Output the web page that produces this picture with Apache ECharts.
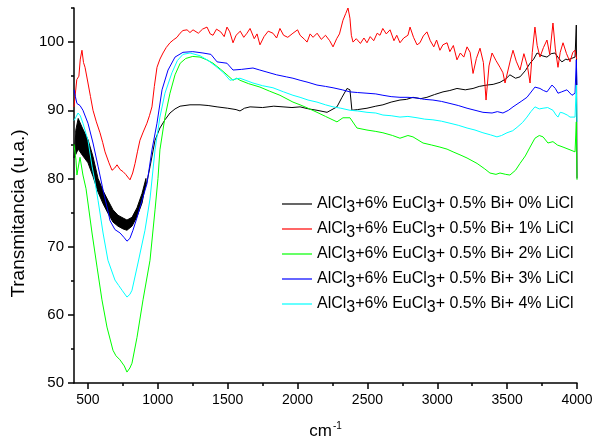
<!DOCTYPE html>
<html>
<head>
<meta charset="utf-8">
<script src="https://cdn.jsdelivr.net/npm/echarts@6/dist/echarts.min.js"></script>
<style>html,body{margin:0;padding:0;background:#fff}#c{width:597px;height:447px}</style>
</head>
<body>
<div id="c"></div>
<script>
// ---- data ----
const seriesNames = [
  'AlCl3+6% EuCl3+ 0.5% Bi+ 0% LiCl',
  'AlCl3+6% EuCl3+ 0.5% Bi+ 1% LiCl',
  'AlCl3+6% EuCl3+ 0.5% Bi+ 2% LiCl',
  'AlCl3+6% EuCl3+ 0.5% Bi+ 3% LiCl',
  'AlCl3+6% EuCl3+ 0.5% Bi+ 4% LiCl'
];
const xMajorTicks = [500, 1000, 1500, 2000, 2500, 3000, 3500, 4000];
const xMinorTicks = [750, 1250, 1750, 2250, 2750, 3250, 3750];
const yMajorTicks = [50, 60, 70, 80, 90, 100];
const yMinorTicks = [55, 65, 75, 85, 95, 105];

const blackX = [400,410,430,460,500,536,572,608,643,679,715,751,779,815,851,887,922,944,980,1015,1051,1087,1123,1159,1230,1302,1360,1424,1500,1560,1588,1620,1660,1750,1830,1896,1960,2018,2080,2139,2211,2282,2318,2354,2375,2389,2430,2497,2560,2611,2670,2733,2780,2826,2880,2926,2980,3041,3090,3141,3200,3256,3300,3356,3400,3449,3490,3520,3560,3592,3630,3664,3690,3714,3750,3785,3815,3842,3870,3892,3920,3935,3960,3986,3995,4000];
const blackY = [83,86,87.5,86,84.3,82,79,77,75.7,74.4,73.8,73.4,73.1,73.6,75,77.1,79.5,81.7,85.6,87.4,88.6,89.6,90.2,90.6,90.8,90.8,90.7,90.5,90.3,90.1,89.9,90.3,90.5,90.4,90.6,90.5,90.4,90.5,90.2,90.0,89.7,90.5,91.9,93.2,93.0,90.0,90.1,90.3,90.6,90.8,91.2,91.5,91.6,91.9,91.7,91.9,92.3,92.7,92.9,93.2,93.0,93.2,93.5,93.7,93.8,94.1,94.6,95.2,94.7,94.9,95.8,96.9,97.5,98.4,98.0,97.8,98.3,98.4,97.6,97.1,97.5,97.4,97.6,97.8,102.5,80];
// thick noisy black band in the 400-900 cm-1 dip (upper / lower edges)
const blackBandX = [412,430,460,500,536,572,608,643,679,715,751,779,815,851,887,915];
const blackBandUpper = [87.0,88.8,87.4,85.7,83.2,80.0,78.2,76.8,75.4,74.6,74.2,73.9,74.3,75.7,77.8,80.0];
const blackBandLower = [83.5,84.3,83.4,82.3,80.3,78.0,76.3,74.9,73.6,73.0,72.6,72.4,73.0,74.4,76.4,79.4];

const redX = [400,405,420,435,445,457,468,479,500,518,536,560,586,605,622,650,672,690,708,730,751,770,785,801,820,837,855,872,895,922,940,958,975,994,1015,1037,1060,1087,1110,1137,1159,1180,1209,1230,1252,1290,1320,1352,1375,1395,1420,1450,1475,1495,1515,1538,1560,1590,1615,1638,1660,1690,1710,1731,1760,1790,1824,1850,1874,1900,1930,1967,2000,2018,2050,2068,2090,2111,2140,2170,2200,2230,2254,2280,2300,2325,2345,2361,2375,2385,2397,2420,2450,2475,2497,2520,2545,2570,2590,2610,2635,2662,2690,2710,2733,2760,2790,2805,2830,2855,2876,2900,2926,2950,2975,2995,3019,3040,3070,3090,3115,3141,3165,3190,3213,3235,3256,3280,3306,3330,3349,3370,3392,3420,3449,3470,3485,3510,3525,3542,3565,3592,3620,3645,3664,3680,3699,3715,3735,3760,3785,3805,3828,3845,3864,3880,3900,3925,3950,3970,3986,3998];
const redY = [90.5,91.5,94.5,95,97.5,98.8,97,96.3,94,92,90,88.3,86.7,85.3,83.9,82.3,81.2,81.5,82,81.3,81,80.6,80.2,79.8,80.8,82.2,84,85.6,86.8,88.1,89.2,90.5,93.5,96.3,97.5,98.4,99.2,99.9,100.3,100.7,101.3,101.7,101.8,101.4,101.8,101.3,101.9,102.2,101.2,101,101.9,101.5,100.8,102.2,101.5,99.9,101,101.6,100.7,101.3,102,100.5,101.2,99.6,100.8,101.6,101.3,100.6,102,101,100.7,101.3,101.8,101,100.4,100.0,101.2,100.7,101.3,100.4,101,100.2,99.3,100.5,101.2,103.2,104.2,105,103.5,101,100,100.5,99.8,100.6,99.9,100.8,100.2,101.3,101,102,101.2,101.8,100.2,101,99.9,100.6,101,102.2,100.7,99.6,99.9,100.9,101.5,100.2,99.3,100.3,98.8,99.6,99.9,98.6,99.5,97.4,98.4,97.8,99.3,98.5,95.4,97.6,99.1,97,91.5,96.5,98.4,97.3,96.3,95.5,94,96.2,97.5,98.8,97.2,95.9,98.3,96.5,94,98.5,102.2,99.5,97.8,99.2,100.3,98.2,102.8,99,96.3,98.5,99.9,98.3,97.1,98.5,98.8,97.5];

const greenX = [400,414,421,443,464,486,500,529,565,600,636,679,700,729,760,779,800,815,851,894,944,980,1001,1015,1051,1087,1123,1160,1200,1250,1302,1350,1395,1450,1495,1538,1565,1588,1650,1731,1800,1874,1967,2018,2075,2139,2200,2282,2325,2375,2425,2497,2560,2611,2680,2733,2790,2826,2898,2960,3019,3070,3113,3170,3213,3285,3340,3377,3420,3449,3490,3520,3560,3592,3630,3664,3699,3730,3757,3792,3828,3860,3900,3950,3986,3995,4000];
const greenY = [85,82.7,80.5,83.1,80.5,78.5,76.4,72,67,62.2,58.2,54.8,54.0,53.4,52.5,51.6,52.2,52.9,56.7,62.2,68,75.4,80,84.2,89,92.5,95.2,96.9,97.6,97.9,97.8,97.4,96.9,96,95.2,94.4,94.7,94.4,93.9,93.4,92.8,92.2,91.2,90.8,90.3,89.7,89.1,88.3,88.9,88.9,87.4,87.1,86.9,86.7,86.3,85.9,86.3,86.1,85.2,84.9,84.6,84.3,83.9,83.4,83,82.2,81.4,80.8,80.6,80.8,80.6,80.5,81.2,82.2,83.3,84.6,85.9,86.3,86.1,85.2,85.4,84.9,84.6,84.2,83.9,88.3,79.8];

const blueX = [400,410,421,443,464,500,536,572,608,643,658,693,730,760,779,800,822,850,887,922,958,994,1030,1073,1123,1180,1250,1323,1380,1424,1495,1538,1600,1681,1730,1781,1850,1920,1967,2018,2075,2139,2200,2254,2320,2375,2430,2497,2560,2611,2670,2733,2790,2855,2910,2969,3030,3091,3150,3213,3270,3327,3392,3430,3470,3510,3542,3600,3642,3699,3735,3760,3785,3821,3845,3864,3890,3928,3964,3986,3995,4000];
const blueY = [93,92,91,90.7,90,88.1,85.2,81.8,78.3,75.2,73.8,72.5,72,71.3,70.8,71.2,72.4,74.2,76.8,79.2,84.2,88.1,93,95.9,97.8,98.5,98.6,98.4,98.2,97.1,96.9,95.9,96.0,96.2,95.9,95.6,95.2,94.9,94.7,94.4,94.1,93.7,93.5,93.3,93,92.7,92.6,92.5,92.4,92.2,92,91.9,91.9,91.8,91.6,91.5,91.3,91,90.7,90.3,90,89.7,89.6,89.8,89.6,90,90.5,91.3,91.9,93.4,93.2,92.9,92.7,93.7,93.2,92.5,92.7,93,92.2,92.5,97.4,93.7];

const cyanX = [400,414,429,445,464,500,529,550,572,608,643,693,720,744,779,800,815,858,908,944,980,1015,1051,1101,1140,1180,1230,1302,1360,1424,1470,1516,1560,1588,1681,1750,1824,1900,1967,2018,2075,2139,2200,2254,2310,2375,2430,2497,2560,2611,2670,2733,2790,2855,2910,2969,3030,3091,3150,3213,3270,3327,3380,3427,3460,3499,3540,3571,3610,3642,3670,3699,3730,3757,3790,3828,3850,3864,3880,3900,3930,3950,3986,3995,4000];
const cyanY = [88.5,89,89.6,89.2,88.1,85.6,81.8,79.5,76.8,72,68,65.1,64.3,63.6,62.6,63,63.6,67.6,72.4,77,84.2,89,92.5,95.5,97.3,98.2,98.4,98,97.3,96.3,95.5,94.4,94.6,94.7,94,93.6,93.3,92.7,92.2,91.9,91.5,91.2,90.8,90.5,90.3,90,89.9,89.7,89.6,89.3,89.2,89,89.1,88.9,88.7,88.6,88.4,88.1,87.8,87.4,87.1,86.7,86.4,86.1,86.3,86.7,87,87.5,88.2,89,89.8,90.5,90.2,90.3,90.4,90,89.3,89,89.7,89.6,89.3,89,89,93.7,88.3];

const colors = ['#000000', '#ff0000', '#00ff00', '#0000ff', '#00ffff'];
// ---- end data ----

const zip = (xs, ys) => xs.map((x, i) => [x, ys[i]]);
const seriesData = [zip(blackX, blackY), zip(redX, redY), zip(greenX, greenY), zip(blueX, blueY), zip(cyanX, cyanY)];

const FONT = "'Liberation Sans', Arial, sans-serif";
const chart = echarts.init(document.getElementById('c'), null, {renderer: 'canvas'});

const lineSeries = seriesNames.map((n, i) => ({
  name: n, type: 'line', data: seriesData[i], symbol: 'none', showSymbol: false,
  xAxisIndex: 0, yAxisIndex: 0,
  lineStyle: {color: colors[i], width: 1}, itemStyle: {color: colors[i]},
  emphasis: {disabled: true}, z: 2 + i, animation: false
}));

const bandSeries = {
  type: 'custom', xAxisIndex: 0, yAxisIndex: 0, data: [[blackBandX[0], blackBandUpper[0]]],
  silent: true, z: 2, animation: false,
  renderItem: function (params, api) {
    const pts = [];
    for (let i = 0; i < blackBandX.length; i++) pts.push(api.coord([blackBandX[i], blackBandUpper[i]]));
    for (let i = blackBandX.length - 1; i >= 0; i--) pts.push(api.coord([blackBandX[i], blackBandLower[i]]));
    return {type: 'polygon', shape: {points: pts}, style: {fill: '#000', stroke: '#000', lineWidth: 1}};
  }
};

const axisLineStyle = {color: '#000', width: 1.5};
chart.setOption({
  animation: false,
  backgroundColor: '#fff',
  grid: {left: 74, right: 20, top: 8, bottom: 64, containLabel: false, outerBoundsMode: 'none'},
  legend: {
    left: 282, top: 196, padding: 0, orient: 'vertical', itemWidth: 30, itemHeight: 1.2, itemGap: 5,
    icon: 'rect',
    data: seriesNames, selectedMode: false,
    formatter: n => n.replace(/Cl3/g, 'Cl{s|3}'),
    textStyle: {fontSize: 16, color: '#000', fontFamily: FONT,
      rich: {s: {fontSize: 16, color: '#000', fontFamily: FONT, padding: [8, 0, 0, 0]}}}
  },
  xAxis: [{
    type: 'value', min: 400, max: 4000, position: 'bottom',
    name: '{b|cm}{s|-1}', nameLocation: 'middle', nameGap: 38,
    nameTextStyle: {rich: {b: {fontSize: 17, fontFamily: FONT, color: '#000'}, s: {fontSize: 10, fontFamily: FONT, color: '#000', padding: [0, 0, 10, 1]}}},
    axisLine: {show: true, lineStyle: axisLineStyle},
    axisTick: {show: true, inside: false, length: 6, customValues: xMajorTicks, lineStyle: {color: '#000', width: 1.5}},
    axisLabel: {customValues: xMajorTicks, formatter: v => String(v), fontSize: 14, color: '#000', fontFamily: FONT, margin: 10},
    splitLine: {show: false}
  }, {
    type: 'value', min: 400, max: 4000, position: 'bottom', offset: 0,
    axisLine: {show: false},
    axisTick: {show: true, inside: false, length: 3, customValues: xMinorTicks, lineStyle: {color: '#000', width: 1.5}},
    axisLabel: {show: false}, splitLine: {show: false}
  }],
  yAxis: [{
    type: 'value', min: 50, max: 105, position: 'left',
    name: 'Transmitancia (u.a.)', nameLocation: 'middle', nameGap: 42, nameRotate: 90,
    nameTextStyle: {fontSize: 19, color: '#000', fontFamily: FONT, padding: [0, 36, 0, 0]},
    axisLine: {show: true, lineStyle: axisLineStyle},
    axisTick: {show: true, inside: false, length: 6, customValues: yMajorTicks, lineStyle: {color: '#000', width: 1.5}},
    axisLabel: {customValues: yMajorTicks, fontSize: 15, color: '#000', fontFamily: FONT, margin: 10},
    splitLine: {show: false}
  }, {
    type: 'value', min: 50, max: 105, position: 'left', offset: 0,
    axisLine: {show: false},
    axisTick: {show: true, inside: false, length: 3, customValues: yMinorTicks, lineStyle: {color: '#000', width: 1.5}},
    axisLabel: {show: false}, splitLine: {show: false}
  }],
  series: [bandSeries].concat(lineSeries)
});
</script>
</body>
</html>
